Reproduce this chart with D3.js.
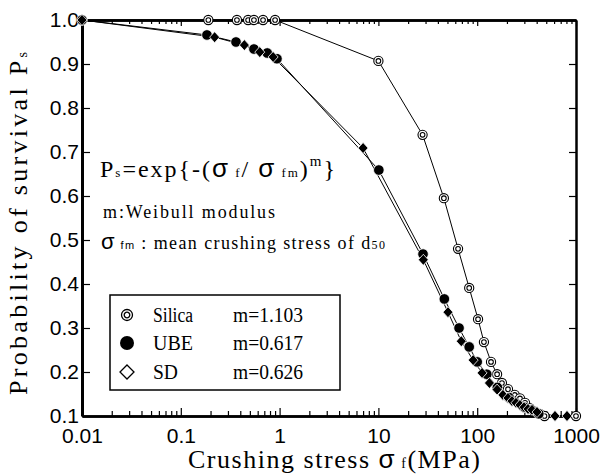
<!DOCTYPE html>
<html>
<head>
<meta charset="utf-8">
<script src="https://cdnjs.cloudflare.com/ajax/libs/d3/7.8.5/d3.min.js"></script>
<style>
body { margin: 0; background: #fff; }
</style>
</head>
<body>
<div id="chart"></div>
<script>
// values
var silicaStress = [0.01, 0.19, 0.37, 0.48, 0.55, 0.68, 0.90, 10, 28, 46, 64, 83, 102, 117, 138, 159, 178, 205, 240, 271, 305, 340, 380, 430, 480, 1000];
var silicaPs     = [1.0, 1.0, 1.0, 1.0, 1.0, 1.0, 1.0, 0.907, 0.739, 0.595, 0.48, 0.391, 0.32, 0.268, 0.223, 0.195, 0.175, 0.161, 0.148, 0.14, 0.13, 0.118, 0.11, 0.105, 0.1, 0.1];

var ubeStress = [0.01, 0.184, 0.362, 0.55, 0.75, 0.94, 10.1, 28.3, 46.5, 65.5, 83, 100, 125, 160, 210, 300, 420];
var ubePs     = [1.0, 0.966, 0.95, 0.934, 0.925, 0.912, 0.659, 0.468, 0.366, 0.30, 0.257, 0.223, 0.195, 0.165, 0.142, 0.12, 0.105];

var sdStress = [0.01, 0.22, 0.44, 0.63, 0.86, 7.0, 28.5, 50.6, 69, 91, 112, 133, 159, 182, 205, 225, 247, 271, 298, 327, 359, 403, 613, 811];
var sdPs     = [1.0, 0.961, 0.943, 0.927, 0.916, 0.709, 0.455, 0.336, 0.27, 0.227, 0.198, 0.175, 0.16, 0.148, 0.141, 0.134, 0.13, 0.125, 0.12, 0.116, 0.114, 0.109, 0.1, 0.1];

var xMajor = [0.01, 0.1, 1, 10, 100, 1000];
var xLabels = ["0.01", "0.1", "1", "10", "100", "1000"];
var yTicks = [0.1, 0.2, 0.3, 0.4, 0.5, 0.6, 0.7, 0.8, 0.9, 1.0];
var yLabels = ["0.1", "0.2", "0.3", "0.4", "0.5", "0.6", "0.7", "0.8", "0.9", "1.0"];

var legendNames = ["Silica", "UBE", "SD"];
var legendModulus = ["m=1.103", "m=0.617", "m=0.626"];

var width = 605, height = 475;
var plotL = 82, plotR = 576, plotT = 20, plotB = 416;

var svg = d3.select("#chart").append("svg")
    .attr("width", width)
    .attr("height", height);

var x = d3.scaleLog().domain([0.01, 1000]).range([plotL, plotR]);
var y = d3.scaleLinear().domain([0.1, 1.0]).range([plotB, plotT]);

var xMinor = [];
xMajor.slice(0, -1).forEach(function(d) {
    for (var k = 2; k < 10; k++) xMinor.push(d * k);
});

function styleAxis(g, size) {
    g.selectAll(".domain").attr("stroke-width", 2.5);
    g.selectAll(".tick line").attr("stroke-width", 1.2);
    g.selectAll(".tick text")
        .style("font-family", "'Liberation Sans', Arial, sans-serif")
        .style("font-size", (size || 21) + "px")
        .attr("fill", "#000");
}

// bottom axis
svg.append("g").attr("transform", "translate(0," + plotB + ")")
    .call(d3.axisBottom(x).tickValues(xMinor).tickSize(-5).tickSizeOuter(0).tickFormat(""))
    .call(styleAxis);
svg.append("g").attr("transform", "translate(0," + plotB + ")")
    .call(d3.axisBottom(x).tickValues(xMajor).tickSize(-8).tickSizeOuter(0).tickPadding(12)
        .tickFormat(function(d, i) { return xLabels[i]; }))
    .call(styleAxis, 21);

// top axis
svg.append("g").attr("transform", "translate(0," + plotT + ")")
    .call(d3.axisTop(x).tickValues(xMinor).tickSize(-4).tickSizeOuter(0).tickFormat(""))
    .call(styleAxis);
svg.append("g").attr("transform", "translate(0," + plotT + ")")
    .call(d3.axisTop(x).tickValues(xMajor).tickSize(-6).tickSizeOuter(0).tickFormat(""))
    .call(styleAxis);

// left axis
svg.append("g").attr("transform", "translate(" + plotL + ",0)")
    .call(d3.axisLeft(y).tickValues(yTicks).tickSize(-8).tickSizeOuter(0).tickPadding(3)
        .tickFormat(function(d, i) { return yLabels[i]; }))
    .call(styleAxis, 21)
    .select(".domain").attr("stroke-width", 3);

// right axis
svg.append("g").attr("transform", "translate(" + plotR + ",0)")
    .call(d3.axisRight(y).tickValues(yTicks).tickSize(-7).tickSizeOuter(0).tickFormat(""))
    .call(styleAxis);

// lines
var line = d3.line()
    .x(function(d) { return x(d[0]); })
    .y(function(d) { return y(d[1]); });

var silica = d3.zip(silicaStress, silicaPs);
var ube = d3.zip(ubeStress, ubePs);
var sd = d3.zip(sdStress, sdPs);

[silica, ube, sd].forEach(function(s) {
    svg.append("path").datum(s)
        .attr("d", line)
        .attr("fill", "none")
        .attr("stroke", "#000")
        .attr("stroke-width", 1);
});

var diamond = "M0,-5.5L5,0L0,5.5L-5,0Z";

function drawSilica(sel) {
    sel.append("circle").attr("r", 4.6).attr("fill", "#fff").attr("stroke", "#000").attr("stroke-width", 1.1);
    sel.append("circle").attr("r", 2.3).attr("fill", "#fff").attr("stroke", "#000").attr("stroke-width", 1.1);
}

svg.selectAll("g.silica").data(silica).enter().append("g")
    .attr("class", "silica")
    .attr("transform", function(d) { return "translate(" + x(d[0]) + "," + y(d[1]) + ")"; })
    .call(drawSilica);

svg.selectAll("circle.ube").data(ube).enter().append("circle")
    .attr("class", "ube")
    .attr("cx", function(d) { return x(d[0]); })
    .attr("cy", function(d) { return y(d[1]); })
    .attr("r", 5.3)
    .attr("fill", "#000")
    .attr("stroke", "#fff")
    .attr("stroke-width", 0.8);

svg.selectAll("path.sd").data(sd).enter().append("path")
    .attr("class", "sd")
    .attr("transform", function(d) { return "translate(" + x(d[0]) + "," + y(d[1]) + ")"; })
    .attr("d", diamond)
    .attr("fill", "#000")
    .attr("stroke", "#fff")
    .attr("stroke-width", 0.8);

// legend
var serif = "'Liberation Serif', 'Times New Roman', serif";
var sans = "'Liberation Sans', Arial, sans-serif";

svg.append("rect")
    .attr("x", 110).attr("y", 295).attr("width", 230).attr("height", 95)
    .attr("fill", "#fff").attr("stroke", "#000").attr("stroke-width", 1.5);

var legY = [315, 343, 372];
var leg = svg.selectAll("g.leg").data(legendNames).enter().append("g")
    .attr("class", "leg")
    .attr("transform", function(d, i) { return "translate(127," + legY[i] + ")"; });

leg.filter(function(d, i) { return i === 0; }).call(function(g) {
    g.append("circle").attr("r", 5.5).attr("fill", "#fff").attr("stroke", "#000").attr("stroke-width", 1.3);
    g.append("circle").attr("r", 2.8).attr("fill", "#fff").attr("stroke", "#000").attr("stroke-width", 1.3);
});
leg.filter(function(d, i) { return i === 1; })
    .append("circle").attr("r", 7).attr("fill", "#000");
leg.filter(function(d, i) { return i === 2; })
    .append("path").attr("d", "M0,-7L7,0L0,7L-7,0Z")
    .attr("fill", "#fff").attr("stroke", "#000").attr("stroke-width", 1.3);

var nameLen = [40, 40, 25];
leg.append("text")
    .attr("x", 26).attr("y", 7)
    .attr("textLength", function(d, i) { return nameLen[i]; })
    .attr("lengthAdjust", "spacingAndGlyphs")
    .style("font-family", serif).style("font-size", "20px")
    .text(function(d) { return d; });
leg.append("text")
    .attr("x", 106).attr("y", 7)
    .attr("textLength", 70)
    .attr("lengthAdjust", "spacingAndGlyphs")
    .style("font-family", serif).style("font-size", "20px")
    .text(function(d, i) { return legendModulus[i]; });

// formula and notes
var f1 = svg.append("text")
    .attr("x", 100).attr("y", 177)
    .attr("textLength", 235)
    .attr("lengthAdjust", "spacing")
    .style("font-family", serif).style("font-size", "24px");
f1.append("tspan").text("P");
f1.append("tspan").style("font-size", "13px").text("s");
f1.append("tspan").text("=exp{-(");
f1.append("tspan").style("font-family", sans).style("font-size", "26px").text("σ");
f1.append("tspan").style("font-size", "13px").text(" f");
f1.append("tspan").text("/ ");
f1.append("tspan").style("font-family", sans).style("font-size", "26px").text("σ");
f1.append("tspan").style("font-size", "13px").text(" fm");
f1.append("tspan").text(")");
f1.append("tspan").style("font-size", "15px").attr("dy", -11).text("m");
f1.append("tspan").attr("dy", 11).text("}");

svg.append("text")
    .attr("x", 103).attr("y", 218)
    .attr("textLength", 172)
    .attr("lengthAdjust", "spacing")
    .style("font-family", serif).style("font-size", "18px")
    .text("m:Weibull modulus");

var f3 = svg.append("text")
    .attr("x", 101).attr("y", 249)
    .attr("textLength", 284)
    .attr("lengthAdjust", "spacing")
    .style("font-family", serif).style("font-size", "18px");
f3.append("tspan").style("font-family", sans).style("font-size", "22px").text("σ");
f3.append("tspan").style("font-family", sans).style("font-size", "11px").text(" fm");
f3.append("tspan").text(" : mean crushing stress of d");
f3.append("tspan").style("font-size", "12px").text("50");

// axis titles
var xt = svg.append("text")
    .attr("x", 188).attr("y", 468)
    .attr("textLength", 292)
    .attr("lengthAdjust", "spacing")
    .style("font-family", serif).style("font-size", "26px");
xt.append("tspan").text("Crushing stress ");
xt.append("tspan").style("font-family", sans).style("font-size", "26px").text("σ");
xt.append("tspan").style("font-size", "14px").text(" f");
xt.append("tspan").text("(MPa)");

var yt = svg.append("text")
    .attr("transform", "translate(27,395) rotate(-90)")
    .attr("x", 0).attr("y", 0)
    .attr("textLength", 343)
    .attr("lengthAdjust", "spacing")
    .style("font-family", serif).style("font-size", "26px");
yt.append("tspan").text("Probability of survival P");
yt.append("tspan").style("font-size", "14px").text("s");
</script>
</body>
</html>
